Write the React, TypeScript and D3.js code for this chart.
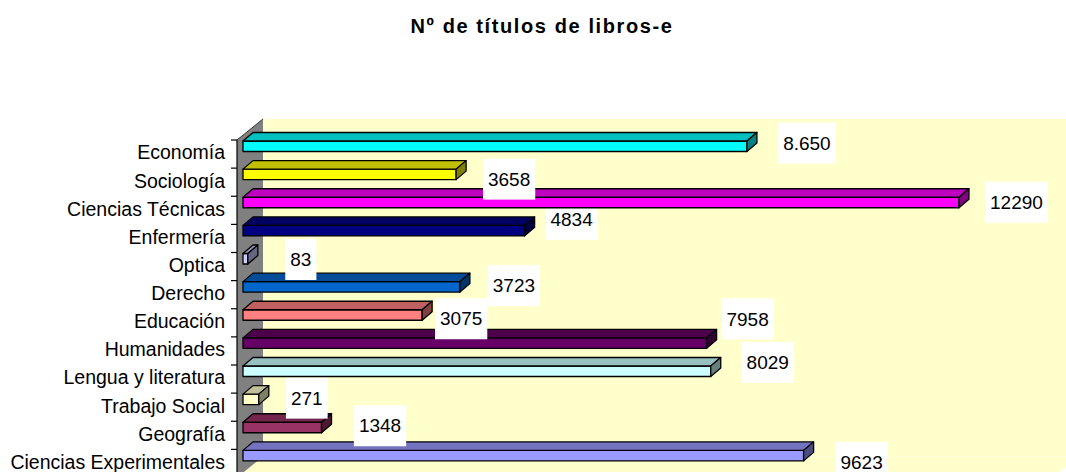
import React, { useRef, useEffect } from "react";
import * as d3 from "d3";

const categories = [
  "Economía",
  "Sociología",
  "Ciencias Técnicas",
  "Enfermería",
  "Optica",
  "Derecho",
  "Educación",
  "Humanidades",
  "Lengua y literatura",
  "Trabajo Social",
  "Geografía",
  "Ciencias Experimentales",
];
const values = [8650, 3658, 12290, 4834, 83, 3723, 3075, 7958, 8029, 271, 1348, 9623];
const valueLabels = ["8.650", "3658", "12290", "4834", "83", "3723", "3075", "7958", "8029", "271", "1348", "9623"];

const frontColors = ["#00FFFF", "#FFFF00", "#FF00FF", "#000080", "#CCCCFF", "#0066CC", "#FF8080", "#660066", "#CCFFFF", "#FFFFCC", "#993366", "#9999FF"];
const topColors = ["#00C0C0", "#C0C000", "#C000C0", "#000060", "#9999C0", "#004C99", "#C06060", "#4C004C", "#99C0C0", "#C0C099", "#73264C", "#7373C0"];
const sideColors = ["#008080", "#808000", "#800080", "#000040", "#666680", "#003366", "#804040", "#330033", "#668080", "#808066", "#4C1933", "#4C4C80"];

// where Excel dropped each data label, relative to the bar end / band top
const labelOffset: [number, number][] = [
  [66, 3], [59, 11], [63.5, 6], [53, -5], [59, 7], [60, 5],
  [45, 10], [47, -18], [63, -2.5], [54, 5], [64.5, 4.5], [64, 13],
];

const W = 1066;
const H = 472;
const FONT = "'Liberation Sans', Arial, sans-serif";

export default function App() {
  const svgRef = useRef<SVGSVGElement>(null);

  useEffect(() => {
    const svg = d3.select(svgRef.current);
    svg.selectAll("*").remove();

    const x = d3.scaleLinear().domain([0, 14000]).range([237, 1052.6]);
    const y = d3.scaleBand().domain(categories).range([140, 477.5]).padding(0);
    const bw = y.bandwidth();

    // depth of the walls and of the bars
    const wallDx = 26, wallDy = -21;
    const barDx = 10, barDy = -8.5;
    const barShift = 6;
    const barH = 10.5;

    const x0 = x(0), x1 = x(14000);
    const yTop = y.range()[0], yBot = y.range()[1];
    const pts = (p: number[][]) => p.map((d) => d.join(",")).join(" ");

    // back wall + floor
    svg.append("polygon")
      .attr("points", pts([[x0 + wallDx, yTop + wallDy], [x1 + wallDx, yTop + wallDy], [x1 + wallDx, yBot + wallDy], [x0 + wallDx, yBot + wallDy]]))
      .attr("fill", "#FFFFCC");
    svg.append("polygon")
      .attr("points", pts([[x0, yBot], [x1, yBot], [x1 + wallDx, yBot + wallDy], [x0 + wallDx, yBot + wallDy]]))
      .attr("fill", "#FFFFCC");

    // side wall
    svg.append("polygon")
      .attr("points", pts([[x0, yTop], [x0 + wallDx, yTop + wallDy], [x0 + wallDx, yBot + wallDy], [x0, yBot]]))
      .attr("fill", "#808080");
    svg.append("line")
      .attr("x1", x0).attr("y1", yTop).attr("x2", x0 + wallDx).attr("y2", yTop + wallDy)
      .attr("stroke", "#333").attr("stroke-width", 1);

    // category axis
    svg.append("line")
      .attr("x1", x0).attr("x2", x0).attr("y1", yTop).attr("y2", yBot)
      .attr("stroke", "#000").attr("stroke-width", 1.2);
    const ticks = categories.map((c) => y(c) as number).concat([yBot]);
    svg.selectAll("line.tick")
      .data(ticks)
      .join("line")
      .attr("class", "tick")
      .attr("x1", x0 - 6).attr("x2", x0)
      .attr("y1", (d) => d).attr("y2", (d) => d)
      .attr("stroke", "#000").attr("stroke-width", 1.2);

    svg.selectAll("text.cat")
      .data(categories)
      .join("text")
      .attr("class", "cat")
      .attr("x", x0 - 12)
      .attr("y", (d) => (y(d) as number) + bw / 2 - 1.5)
      .attr("dy", "0.35em")
      .attr("text-anchor", "end")
      .style("font-family", FONT)
      .style("font-size", "19.5px")
      .style("fill", "#000")
      .text((d) => d);

    // bars and labels, drawn bottom-up like Excel does
    for (let i = categories.length - 1; i >= 0; i--) {
      const t = (y(categories[i]) as number) + 1;
      const xl = x(0) + barShift;
      const xr = x(values[i]) + barShift;
      const g = svg.append("g")
        .attr("stroke", "#000")
        .attr("stroke-width", 1.3)
        .attr("stroke-linejoin", "round");

      g.append("rect")
        .attr("x", xl).attr("y", t)
        .attr("width", xr - xl).attr("height", barH)
        .attr("fill", frontColors[i]);
      g.append("polygon")
        .attr("points", pts([[xl, t], [xr, t], [xr + barDx, t + barDy], [xl + barDx, t + barDy]]))
        .attr("fill", topColors[i]);
      g.append("polygon")
        .attr("points", pts([[xr, t], [xr + barDx, t + barDy], [xr + barDx, t + barH + barDy], [xr, t + barH]]))
        .attr("fill", sideColors[i]);

      const cx = x(values[i]) + labelOffset[i][0];
      const cy = (y(categories[i]) as number) + labelOffset[i][1];
      const lg = svg.append("g");
      const rect = lg.append("rect").attr("fill", "#fff");
      const txt = lg.append("text")
        .attr("x", cx).attr("y", cy)
        .attr("dy", "0.35em")
        .attr("text-anchor", "middle")
        .style("font-family", FONT)
        .style("font-size", "19px")
        .style("fill", "#000")
        .text(valueLabels[i]);
      const tw = (txt.node() as SVGTextElement).getComputedTextLength();
      rect.attr("x", cx - tw / 2 - 5).attr("y", cy - 20.5)
        .attr("width", tw + 10).attr("height", 41);
    }

    svg.append("text")
      .attr("x", 542)
      .attr("y", 33)
      .attr("text-anchor", "middle")
      .style("font-family", FONT)
      .style("font-size", "20px")
      .style("font-weight", "bold")
      .style("letter-spacing", "1.6px")
      .style("fill", "#000")
      .text("Nº de títulos de libros-e");
  }, []);

  return (
    <svg
      ref={svgRef}
      width={W}
      height={H}
      style={{ position: "absolute", left: 0, top: 0, background: "#fff" }}
    />
  );
}
